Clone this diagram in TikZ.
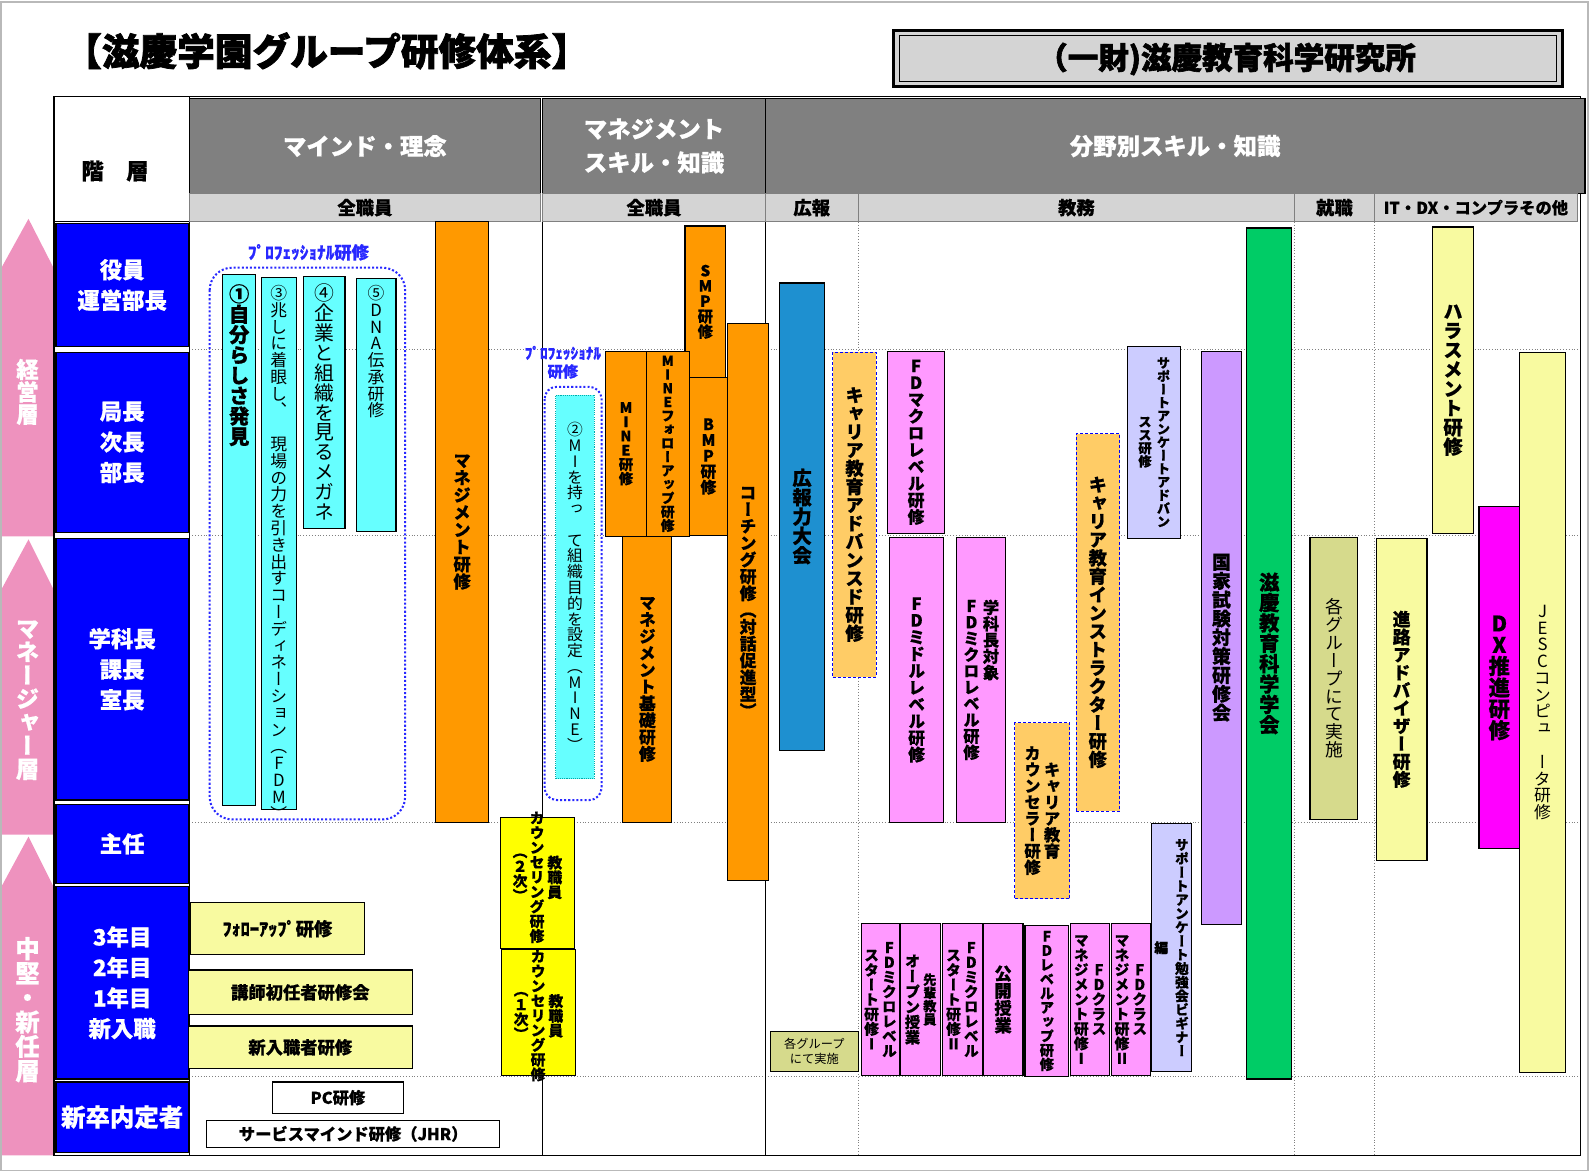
\documentclass[tikz,border=0pt]{standalone}
\usepackage{fontspec}
\setmainfont{Noto Sans CJK JP}[BoldFeatures={FakeBold=0.6}]
\newfontfamily\heavyfont{Noto Sans CJK JP}[BoldFeatures={FakeBold=2}]
\newfontfamily\tatefont{Noto Sans CJK JP}[RawFeature={+vert}, BoldFeatures={FakeBold=0.6}]

\definecolor{kBlue}{RGB}{0,0,255}
\definecolor{kGray}{RGB}{128,128,128}
\definecolor{kSub}{RGB}{212,212,212}
\definecolor{kCyan}{RGB}{102,255,255}
\definecolor{kOrange}{RGB}{255,153,0}
\definecolor{kYellow}{RGB}{255,255,0}
\definecolor{kLtYellow}{RGB}{248,250,160}
\definecolor{kSky}{RGB}{30,144,208}
\definecolor{kLtOrange}{RGB}{255,204,102}
\definecolor{kPinkFD}{RGB}{255,153,255}
\definecolor{kLav}{RGB}{204,204,255}
\definecolor{kPurple}{RGB}{204,153,255}
\definecolor{kGreen}{RGB}{0,204,102}
\definecolor{kMag}{RGB}{255,0,255}
\definecolor{kKhaki}{RGB}{214,218,140}
\definecolor{kArrow}{RGB}{238,146,190}
\definecolor{kProBlue}{RGB}{40,40,255}

% 縦書き（1文字ずつ積む）
\makeatletter
\newcommand\tate[1]{\vbox{\baselineskip=1em\lineskiplimit=-\maxdimen
  \@tfor\tate@c:=#1\do{\hbox to 1em{\hss\tate@c\hss}}}}
\makeatother
% 二行の縦書き：右の行, 左の行
\newcommand\tatepair[3][.2em]{$\vcenter{#3}\hspace{#1}\vcenter{#2}$}
% 箱：スタイル, 名前, x1, y1, x2, y2, 文字
\newcommand\kbox[7]{\node[#1, anchor=north west, minimum width={#5-#3}, minimum height={#6-#4}] (#2) at (#3,#4) {#7};}

\tikzset{
  box/.style={draw=black, line width=1.1pt, inner sep=0pt, outer sep=0pt},
  lbl/.style={box, fill=kBlue, text=white, align=center, font=\bfseries\fontsize{22}{30}\selectfont},
  head/.style={box, line width=1.4pt, fill=kGray, text=white, align=center, font=\bfseries\fontsize{23}{33}\selectfont},
  subhead/.style={draw=gray, line width=.8pt, fill=kSub, inner sep=0pt, outer sep=0pt, font=\bfseries\fontsize{18}{18}\selectfont},
  tbf/.style={font=\tatefont\bfseries\fontsize{#1}{#1}\selectfont, inner sep=0pt},
  tnf/.style={font=\tatefont\fontsize{#1}{#1}\selectfont, inner sep=0pt},
  cyanbox/.style={box, fill=kCyan},
  orangebox/.style={box, fill=kOrange},
  ybox/.style={box, fill=kYellow},
  lybox/.style={box, fill=kLtYellow},
  skybox/.style={box, fill=kSky},
  lobox/.style={box, fill=kLtOrange, draw=blue, densely dashed, line width=.7pt},
  fdbox/.style={box, fill=kPinkFD},
  lavbox/.style={box, fill=kLav},
  purbox/.style={box, fill=kPurple},
  grbox/.style={box, fill=kGreen},
  magbox/.style={box, fill=kMag},
  khbox/.style={box, fill=kKhaki},
  wbox/.style={box, fill=white},
  hfont/.style={font=\bfseries\fontsize{#1}{#1}\selectfont},
  prodot/.style={draw=kProBlue, dash pattern=on 2pt off 2pt, line width=2pt},
  protext/.style={text=kProBlue, align=center, font=\bfseries\fontsize{17}{19}\selectfont},
  grid/.style={gray, dotted, line width=.8pt},
}

\begin{document}
\begin{tikzpicture}[x=1pt, y=-1pt]
  \useasboundingbox (0,0) rectangle (1568,1153);
  \draw[gray!55, line width=1.5pt] (1,2) rectangle (1560,1150);

  % タイトル
  \node[font=\heavyfont\bfseries\fontsize{37}{37}\selectfont] (title) at (321,50) {【滋慶学園グループ研修体系】};
  \draw[line width=3pt, fill=kSub] (878,30) rectangle (1535,85);
  \draw[line width=.6pt] (884,35) rectangle (1529,80);
  \node[font=\heavyfont\bfseries\fontsize{30}{30}\selectfont] (inst) at (1205,58) {（一財)滋慶教育科学研究所};

  % 罫線
  \foreach \y in {343,526,808,1058}
    \draw[grid] (186,\y) -- (1553,\y);
  \foreach \x in {843,1272,1350}
    \draw[grid] (\x,218) -- (\x,1135);
  \foreach \x in {186,533,752}
    \draw[line width=1.2pt] (\x,218) -- (\x,1135);
  \draw[line width=1.4pt] (53,95) rectangle (1553,1135);

  % 見出し
  \kbox{wbox}{kaiso}{53}{95}{186}{218}{}
  \node[hfont=22] (kaisoT) at (113,168) {階　層};
  \kbox{head}{hMind}{186}{97}{531}{190}{マインド・理念}
  \kbox{head}{hMgmt}{533}{97}{752}{190}{マネジメント\\スキル・知識}
  \kbox{head}{hField}{752}{97}{1557}{190}{分野別スキル・知識}
  \kbox{subhead}{sMind}{186}{190}{531}{218}{全職員}
  \kbox{subhead}{sMgmt}{533}{190}{752}{218}{全職員}
  \kbox{subhead}{sPR}{752}{190}{843}{218}{広報}
  \kbox{subhead}{sEdu}{843}{190}{1272}{218}{教務}
  \kbox{subhead}{sJob}{1272}{190}{1350}{218}{就職}
  \kbox{subhead, hfont=16}{sIT}{1350}{190}{1550}{218}{IT・DX・コンプラその他}

  % 階層（左）
  \fill[kArrow] (2,527) -- (2,262) -- (28,215) -- (52,262) -- (52,527) -- cycle;
  \fill[kArrow] (2,820) -- (2,578) -- (28,530) -- (52,578) -- (52,820) -- cycle;
  \fill[kArrow] (2,1135) -- (2,870) -- (28,822) -- (52,870) -- (52,1135) -- cycle;
  \node[tbf=22, text=white] (keiei) at (27,385) {\tate{経営層}};
  \node[tbf=23, text=white] (manager) at (27,688) {\tate{マネージャー層}};
  \node[tbf=24, text=white] (chuken) at (27,992) {\tate{中堅・新任層}};

  \kbox{lbl}{yakuin}{55}{220}{185}{340}{役員\\運営部長}
  \kbox{lbl}{kyoku}{55}{346}{185}{523}{局長\\次長\\部長}
  \kbox{lbl}{gakka}{55}{529}{185}{786}{学科長\\課長\\室長}
  \kbox{lbl}{shunin}{55}{790}{185}{868}{主任}
  \kbox{lbl}{nenme}{55}{871}{185}{1060}{3年目\\2年目\\1年目\\新入職}
  \kbox{lbl, hfont=24}{naitei}{55}{1063}{185}{1132}{新卒内定者}

  % マインド・理念
  \node[protext] (pro1) at (303,248) {ﾌﾟﾛﾌｪｯｼｮﾅﾙ研修};
  \draw[prodot, rounded corners=22pt] (206,263) rectangle (398,805);
  \kbox{cyanbox}{jibun}{219}{270}{251}{791}{}
  \kbox{cyanbox}{kizashi}{257}{273}{291}{795}{}
  \kbox{cyanbox}{megane}{298}{272}{339}{519}{}
  \kbox{cyanbox}{dna}{350}{274}{389}{522}{}
  \node[tbf=20, anchor=north] (jibunT) at ([yshift=-9pt]jibun.north) {\tate{①自分らしさ発見}};
  \node[tnf=16.5, anchor=north] (kizashiT) at ([yshift=-7pt]kizashi.north) {\tate{③兆しに着眼し、{\ }現場の力を引き出すコーディネーション（FDM）}};
  \node[tnf=19.5, anchor=north] (meganeT) at ([yshift=-7pt]megane.north) {\tate{④企業と組織を見るメガネ}};
  \node[tnf=16.5, anchor=north] (dnaT) at ([yshift=-6pt]dna.north) {\tate{⑤DNA伝承研修}};
  \kbox{orangebox, tbf=17}{mgmt}{428}{218}{480}{808}{\tate{マネジメント研修}}

  % マネジメント
  \node[protext, font=\bfseries\fontsize{15}{18}\selectfont] (pro2) at (553,356) {ﾌﾟﾛﾌｪｯｼｮﾅﾙ\\研修};
  \draw[prodot, rounded corners=12pt] (535,380) rectangle (591,786);
  \kbox{box, fill=kCyan, draw={rgb,255:red,0;green,170;blue,170}, densely dotted, line width=.7pt, tnf=15.5}{mine2}{546}{388}{584}{765}{\tate{②MIを持っ{\ }て組織目的を設定（MINE）}}
  \kbox{orangebox, tbf=15}{smp}{673}{222}{713}{371}{\tate{SMP研修}}
  \kbox{orangebox, tbf=14}{mine}{595}{345}{635}{527}{\tate{MINE研修}}
  \kbox{orangebox, tbf=13.5}{minefu}{635}{345}{677}{527}{\tate{MINEフォローアップ研修}}
  \kbox{orangebox, tbf=15.5}{bmp}{677}{371}{715}{526}{\tate{BMP研修}}
  \kbox{orangebox, tbf=16.5}{kiso}{612}{527}{660}{808}{\tate{マネジメント基礎研修}}
  \kbox{orangebox, tbf=16.5}{coach}{715}{318}{755}{865}{\tate{コーチング研修（対話促進型）}}
  \kbox{ybox}{couns2}{492}{803}{564}{932}{}
  \kbox{ybox}{couns1}{493}{933}{565}{1057}{}
  \node[tbf=14.5] (couns2T) at (528,862) {$\vcenter{\tate{（２次）}}\hspace{.15em}\vcenter{\tate{カウンセリング研修}}\hspace{.2em}\vcenter{\tate{教職員}}$};
  \node[tbf=14.5] (couns1T) at (529,998) {$\vcenter{\tate{（１次）}}\hspace{.15em}\vcenter{\tate{カウンセリング研修}}\hspace{.2em}\vcenter{\tate{教職員}}$};

  % 新任・内定者（横長）
  \kbox{lybox, hfont=18}{follow}{187}{887}{358}{938}{ﾌｫﾛｰｱｯﾌﾟ研修}
  \kbox{lybox, hfont=17}{koshi}{185}{953}{405}{997}{講師初任者研修会}
  \kbox{lybox, hfont=17}{shinnyu}{185}{1008}{405}{1050}{新入職者研修}
  \kbox{wbox, hfont=16}{pc}{268}{1063}{396}{1094}{PC研修}
  \kbox{wbox, hfont=16}{jhr}{203}{1101}{491}{1127}{サービスマインド研修（JHR）}

  % 広報・教務
  \kbox{skybox, tbf=19}{koho}{766}{278}{810}{737}{\tate{広報力大会}}
  \kbox{lobox, tbf=18}{careerAd}{818}{346}{861}{665}{\tate{キャリア教育アドバンスド研修}}
  \kbox{fdbox, tbf=16.5}{fdMacro}{872}{345}{928}{524}{\tate{FDマクロレベル研修}}
  \kbox{fdbox, tbf=16.5}{fdMiddle}{874}{528}{927}{808}{\tate{FDミドルレベル研修}}
  \kbox{fdbox, tbf=16}{fdMicro}{940}{528}{988}{808}{\tatepair{\tate{学科長対象{\ }{\ }{\ }{\ }{\ }}}{\tate{FDミクロレベル研修}}}
  \kbox{lobox, tbf=16}{careerCo}{997}{710}{1051}{883}{\tatepair{\tate{キャリア教育}}{\tate{カウンセラー研修}}}
  \kbox{lobox, tbf=18}{careerIn}{1057}{426}{1100}{797}{\tate{キャリア教育インストラクター研修}}
  \kbox{lavbox, tbf=13}{supAd}{1108}{340}{1160}{529}{\tatepair[.4em]{\tate{サポートアンケートアドバン}}{\tate{スス研修}}}
  \kbox{purbox, tbf=18.5}{kokka}{1180}{345}{1220}{908}{\tate{国家試験対策研修会}}
  \kbox{grbox, tbf=20}{gakkai}{1225}{224}{1269}{1060}{\tate{滋慶教育科学学会}}
  \kbox{lavbox, tbf=13.5}{supBg}{1131}{809}{1171}{1053}{\tatepair[.5em]{\tate{サポートアンケート勉強会ビギナー}}{\tate{編}}}
  \kbox{khbox, align=center, font=\fontsize{12}{15}\selectfont}{kakuA}{757}{1013}{843}{1053}{各グループ\\にて実施}
  \kbox{fdbox, tbf=14.5}{fdStart1}{846}{907}{884}{1057}{\tatepair{\tate{FDミクロレベル}}{\tate{スタート研修Ⅰ}}}
  \kbox{fdbox, tbf=15}{senpai}{885}{907}{924}{1057}{\tatepair{{\fontsize{13}{13}\selectfont\tate{先輩教員}}}{\tate{オープン授業}}}
  \kbox{fdbox, tbf=14.5}{fdStart2}{926}{907}{965}{1057}{\tatepair{\tate{FDミクロレベル}}{\tate{スタート研修Ⅱ}}}
  \kbox{fdbox, tbf=17}{kokai}{966}{907}{1005}{1057}{\tate{公開授業}}
  \kbox{fdbox, tbf=14}{fdUp}{1007}{909}{1050}{1058}{\tate{FDレベルアップ研修}}
  \kbox{fdbox, tbf=14.5}{fdClass1}{1052}{907}{1090}{1057}{\tatepair{\tate{FDクラス}}{\tate{マネジメント研修Ⅰ}}}
  \kbox{fdbox, tbf=14.5}{fdClass2}{1092}{907}{1130}{1057}{\tatepair{\tate{FDクラス}}{\tate{マネジメント研修Ⅱ}}}

  % 就職・IT他
  \kbox{khbox, tnf=17.5}{kakuB}{1287}{528}{1334}{805}{\tate{各グループにて実施}}
  \kbox{lybox, tbf=17.5}{shinro}{1352}{529}{1402}{845}{\tate{進路アドバイザー研修}}
  \kbox{lybox, tbf=19}{harass}{1407}{223}{1448}{524}{\tate{ハラスメント研修}}
  \kbox{magbox, tbf=21}{dx}{1453}{498}{1493}{834}{\tate{DX推進研修}}
  \kbox{lybox, tnf=16.5}{jesc}{1493}{346}{1538}{1054}{\tate{JESCコンピュ{\ }ータ研修}}
\end{tikzpicture}
\end{document}
